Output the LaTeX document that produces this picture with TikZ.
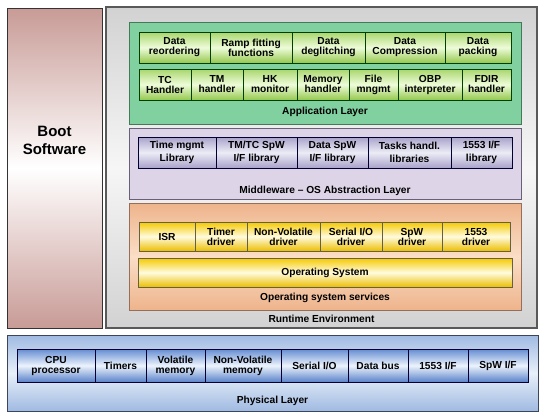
\documentclass[tikz,border=0pt]{standalone}
\usepackage{fontspec}
\setmainfont{Liberation Sans}
\usepackage{tikz}
\usetikzlibrary{positioning,calc}
\usepackage{xcolor}
\definecolor{bootRose}{RGB}{200,155,150}
\definecolor{rtGray}{RGB}{210,210,210}
\definecolor{rtLight}{RGB}{246,246,246}
\definecolor{appMint}{RGB}{128,208,160}
\definecolor{appEdge}{RGB}{70,120,90}
\definecolor{grTop}{RGB}{168,214,108}
\definecolor{grMid}{RGB}{238,252,218}
\definecolor{grBot}{RGB}{148,200,78}
\definecolor{mwLilac}{RGB}{221,213,231}
\definecolor{mwEdge}{RGB}{105,95,120}
\definecolor{lbTop}{RGB}{168,162,202}
\definecolor{lbMid}{RGB}{236,236,246}
\definecolor{osTop}{RGB}{238,180,140}
\definecolor{osMid}{RGB}{250,222,198}
\definecolor{osEdge}{RGB}{150,110,90}
\definecolor{ylTop}{RGB}{245,200,0}
\definecolor{ylMid}{RGB}{255,251,222}
\definecolor{ylBot}{RGB}{236,190,0}
\definecolor{phTop}{RGB}{160,186,226}
\definecolor{phMid}{RGB}{232,240,249}
\definecolor{phEdge}{RGB}{60,70,90}
\definecolor{blTop}{RGB}{100,140,210}
\definecolor{blMid}{RGB}{236,243,252}
\definecolor{blBot}{RGB}{90,130,202}

\begin{document}
\begin{tikzpicture}[x=1pt,y=-1pt,
        layer/.style={rectangle, inner sep=0pt, line width=0.8pt},
        cell/.style={rectangle, inner sep=0pt, line width=0.7pt, align=center,
          font=\fontsize{10.2}{10}\selectfont\bfseries},
        appcell/.style={cell, draw=black!75!green, top color=grTop, bottom color=grBot,
          middle color=grMid, minimum height=31pt},
        libcell/.style={cell, draw=black!80!blue, top color=lbTop, bottom color=lbTop,
          middle color=lbMid, minimum height=31pt, font=\fontsize{10.2}{13}\selectfont\bfseries},
        drvcell/.style={cell, draw=black!70!yellow, top color=ylTop, bottom color=ylBot,
          middle color=ylMid, minimum height=29pt},
        hwcell/.style={cell, draw=black!80!blue, top color=blTop, bottom color=blBot,
          middle color=blMid, minimum height=33pt},
        caption/.style={font=\fontsize{10.2}{12}\selectfont\bfseries, inner sep=1pt}
      ]
        \useasboundingbox (0,0) rectangle (545,418);

        % Boot software and runtime frame
        \node[layer, draw=black!80, top color=bootRose, bottom color=bootRose, middle color=white,
          minimum width=95pt, minimum height=320pt] (boot) at (54.5,168) {};
        \node[font=\fontsize{15}{18}\selectfont\bfseries, align=center] (bootlbl) at (54.5,140)
          {Boot\\Software};
        \node[layer, draw=black!65, line width=1.3pt, top color=rtGray, bottom color=rtGray,
          middle color=rtLight, minimum width=431pt, minimum height=321pt] (runtime) at (321.5,167.5) {};
        \node[caption] (rtlbl) at (321.5,319) {Runtime Environment};

        % Application layer
        \node[layer, draw=appEdge, fill=appMint, minimum width=392pt, minimum height=102pt] (app) at (325,73) {};
        \node[caption] (applbl) at (325,111.5) {Application Layer};
        \node[appcell, minimum width=71pt] (reord) at (174.5,47.5) {Data\\reordering};
        \node[appcell, minimum width=82pt] (ramp) at (251,47.5) {Ramp fitting\\functions};
        \node[appcell, minimum width=73pt] (deglitch) at (328.5,47.5) {Data\\deglitching};
        \node[appcell, minimum width=80pt] (compr) at (405,47.5) {Data\\Compression};
        \node[appcell, minimum width=66pt] (pack) at (478,47.5) {Data\\packing};
        \node[appcell, minimum width=52pt] (tch) at (165,84.5) {TC\\Handler};
        \node[appcell, minimum width=52pt] (tmh) at (217,84.5) {TM\\handler};
        \node[appcell, minimum width=54pt] (hkm) at (270,84.5) {HK\\monitor};
        \node[appcell, minimum width=52pt] (memh) at (323,84.5) {Memory\\handler};
        \node[appcell, minimum width=49pt] (file) at (373.5,84.5) {File\\mngmt};
        \node[appcell, minimum width=64pt] (obp) at (430,84.5) {OBP\\interpreter};
        \node[appcell, minimum width=49pt] (fdir) at (486.5,84.5) {FDIR\\handler};

        % Middleware
        \node[layer, draw=mwEdge, fill=mwLilac, minimum width=392pt, minimum height=71pt] (mw) at (325,163.5) {};
        \node[caption] (mwlbl) at (325,190.5) {Middleware -- OS Abstraction Layer};
        \node[libcell, minimum width=78pt] (timelib) at (177,152.5) {Time mgmt\\Library};
        \node[libcell, minimum width=81pt] (tmtclib) at (256.5,152.5) {TM/TC SpW\\I/F library};
        \node[libcell, minimum width=71pt] (datalib) at (332.5,152.5) {Data SpW\\I/F library};
        \node[libcell, minimum width=83pt] (tasklib) at (409.5,152.5) {Tasks handl.\\libraries};
        \node[libcell, minimum width=61pt] (milib) at (481.5,152.5) {1553 I/F\\library};

        % Operating system services
        \node[layer, draw=osEdge, top color=osTop, bottom color=osTop, middle color=osMid,
          minimum width=392pt, minimum height=107pt] (os) at (325,256.5) {};
        \node[caption] (oslbl) at (325,298) {Operating system services};
        \node[drvcell, minimum width=56pt] (isr) at (167,236.5) {ISR};
        \node[drvcell, minimum width=52pt] (timerdrv) at (221,236.5) {Timer\\driver};
        \node[drvcell, minimum width=73pt] (nvdrv) at (283.5,236.5) {Non-Volatile\\driver};
        \node[drvcell, minimum width=62pt] (serdrv) at (351,236.5) {Serial I/O\\driver};
        \node[drvcell, minimum width=60pt] (spwdrv) at (412,236.5) {SpW\\driver};
        \node[drvcell, minimum width=68pt] (midrv) at (476,236.5) {1553\\driver};
        \node[drvcell, minimum width=374pt] (opsys) at (325,272.5) {Operating System};

        % Physical layer
        \node[layer, draw=phEdge, top color=phTop, bottom color=phTop, middle color=phMid,
          minimum width=531pt, minimum height=76pt] (phys) at (272.5,373) {};
        \node[caption] (phlbl) at (272.5,400.5) {Physical Layer};
        \node[hwcell, minimum width=78pt] (cpu) at (56,365.5) {CPU\\processor};
        \node[hwcell, minimum width=51pt] (timers) at (120.5,365.5) {Timers};
        \node[hwcell, minimum width=59pt] (volmem) at (175.5,365.5) {Volatile\\memory};
        \node[hwcell, minimum width=76pt] (nvmem) at (243,365.5) {Non-Volatile\\memory};
        \node[hwcell, minimum width=67pt] (serio) at (314.5,365.5) {Serial I/O};
        \node[hwcell, minimum width=60pt] (dbus) at (378,365.5) {Data bus};
        \node[hwcell, minimum width=60pt] (miif) at (438,365.5) {1553 I/F};
        \node[hwcell, minimum width=60pt] (spwif) at (498,365.5) {SpW I/F};
      \end{tikzpicture}
\end{document}
